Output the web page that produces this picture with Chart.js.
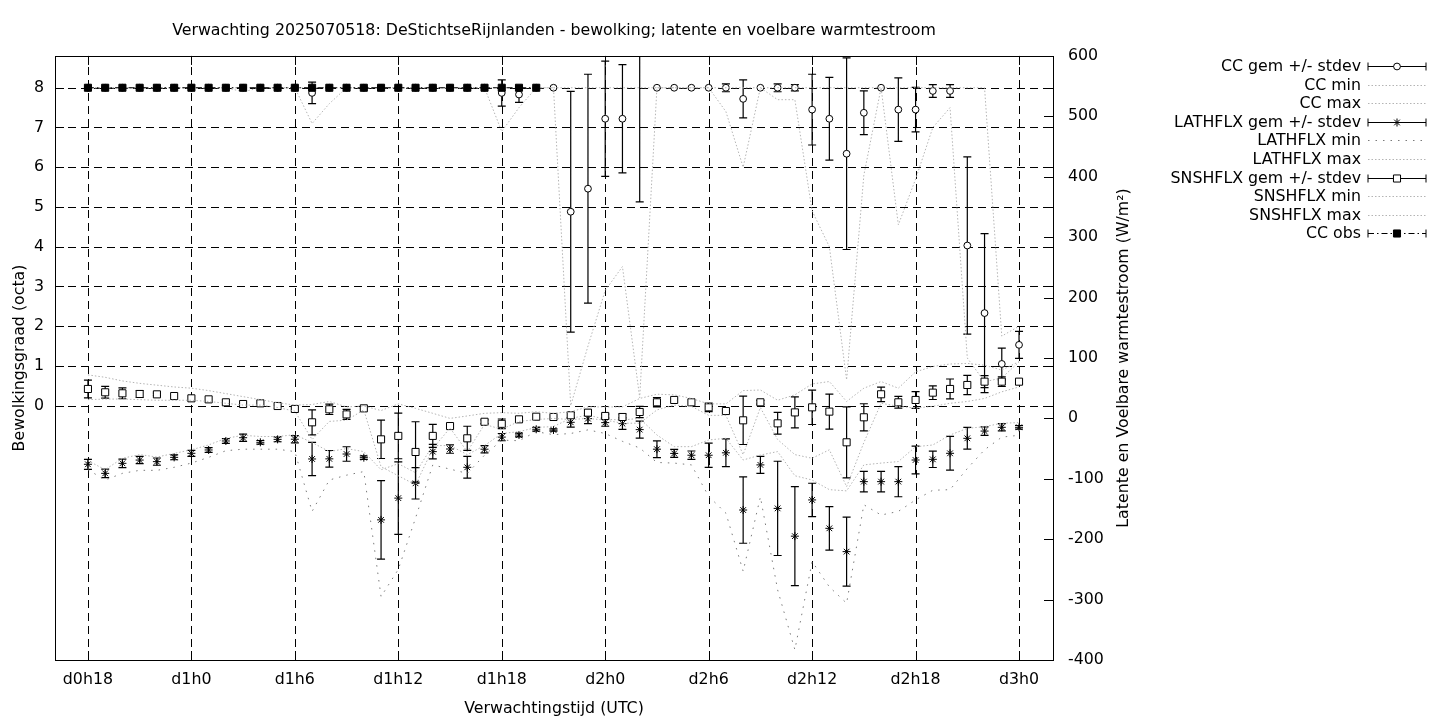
<!DOCTYPE html>
<html>
<head>
<meta charset="utf-8">
<title>Verwachting 2025070518 - DeStichtseRijnlanden</title>
<script src="https://cdn.jsdelivr.net/npm/chart.js@4/dist/chart.umd.min.js"></script>
<style>
  html, body { margin: 0; padding: 0; background: #fff; }
  #wrap { width: 1440px; height: 720px; }
</style>
</head>
<body>
<div id="wrap"><canvas id="chart" width="1440" height="720"></canvas></div>
<script>
// forecast hours since d0h0 (hourly, d0h18 .. d3h0)
const hours = [18, 19, 20, 21, 22, 23, 24, 25, 26, 27, 28, 29, 30,
  31, 32, 33, 34, 35, 36, 37, 38, 39, 40, 41, 42, 43, 44,
  45, 46, 47, 48, 49, 50, 51, 52, 53, 54, 55, 56, 57, 58, 59,
  60, 61, 62, 63, 64, 65, 66, 67, 68, 69, 70, 71, 72];

// x axis ticks
const xTickHours = [18, 24, 30, 36, 42, 48, 54, 60, 66, 72];
const xTickLabels = ['d0h18', 'd1h0', 'd1h6', 'd1h12', 'd1h18', 'd2h0', 'd2h6', 'd2h12', 'd2h18', 'd3h0'];
const ccTicks = [0, 1, 2, 3, 4, 5, 6, 7, 8];

// bewolking (octa)
const ccMean = [8, 8, 8, 8, 8, 8, 8, 8, 8, 8, 8, 8, 8,
  7.87, 8, 8, 8, 8, 8, 8, 8, 8, 8, 8, 7.87, 7.83, 8,
  8, 4.88, 5.46, 7.22, 7.22, 9.0, 8, 8, 8, 8, 8, 7.72, 8, 8, 8,
  7.45, 7.22, 6.34, 7.37, 8, 7.45, 7.45, 7.92, 7.92, 4.03, 2.33, 1.05, 1.53];
const ccSd = [0, 0, 0, 0, 0, 0, 0, 0, 0, 0, 0, 0, 0,
  0.27, 0, 0, 0, 0, 0, 0, 0, 0, 0, 0, 0.33, 0.2, 0,
  0, 3.03, 2.88, 1.45, 1.36, 3.87, 0, 0, 0, 0, 0.1, 0.48, 0, 0.1, 0.08,
  0.89, 1.04, 2.41, 0.55, 0, 0.8, 0.56, 0.16, 0.16, 2.23, 2.0, 0.4, 0.34];
const ccMin = [8, 8, 8, 8, 8, 8, 8, 8, 8, 7.9, 8, 8, 8,
  7.1, 7.6, 8, 8, 8, 8, 8, 8, 8, 8, 8, 6.9, 7.5, 8,
  8, 0, 1.5, 2.9, 3.5, 0.2, 8, 8, 8, 8, 7.4, 6.0, 8, 7.7, 7.7,
  4.9, 4.0, 0.65, 5.8, 8, 4.55, 5.7, 7.0, 7.5, 1.2, 0.6, 0.7, 1.1];
const ccMax = [8, 8, 8, 8, 8, 8, 8, 8, 8, 8, 8, 8, 8,
  8, 8, 8, 8, 8, 8, 8, 8, 8, 8, 8, 8, 8, 8,
  8, 8, 8, 8, 8, 8, 8, 8, 8, 8, 8, 8, 8, 8, 8,
  8, 8, 8, 8, 8, 8, 8, 8, 8, 8, 8, 1.75, 2.0];
const ccObs = [8, 8, 8, 8, 8, 8, 8, 8, 8, 8, 8, 8, 8,
  8, 8, 8, 8, 8, 8, 8, 8, 8, 8, 8, 8, 8, 8,
  null, null, null, null, null, null, null, null, null, null, null, null, null, null, null,
  null, null, null, null, null, null, null, null, null, null, null, null, null];

// latente warmtestroom (W/m2)
const latMean = [-76, -91, -74.4, -69, -71.6, -64.5, -57.8, -52.3, -37.4, -32, -39.6, -34.7, -34.5,
  -67.2, -67, -59, -65, -168, -132, -107.5, -55, -50.7, -81, -51, -31, -27.5, -18,
  -19.2, -6.5, -0.4, -7, -8.7, -18.6, -51, -58, -61, -61, -57, -151.7, -77, -149, -195,
  -135, -182, -220.6, -104.7, -104.7, -104.7, -68.9, -67.8, -57.8, -33, -21, -14.8, -14.8];
const latSd = [8.3, 7, 7, 6, 6, 4, 5, 4, 4, 6, 3, 4, 6,
  27.6, 13.8, 12, 3, 65, 60, 26, 12, 7, 18, 6, 6, 3, 3,
  2, 8, 8.3, 6, 9.6, 14, 13.8, 6.6, 7, 20, 23, 55, 14, 78, 82,
  27.6, 36, 57, 17, 17, 25, 23, 13.5, 28, 18, 7, 6, 3];
const latMin = [-85, -102, -91, -86, -86, -81, -74, -64.5, -53.5, -51, -51, -51, -55,
  -154, -102, -94, -88, -295, -250, -165, -77, -84, -91, -61, -36, -37, -22,
  -27, -25, -19, -25, -38, -49, -73, -74, -77, -129, -157, -253, -130, -284, -383,
  -237, -279, -306, -143, -160, -154, -135, -119, -118, -83, -52, -31, -28];
const latMax = [-70, -85, -66, -60, -64, -58, -52, -44, -33, -28, -30, -30, -27,
  -40, -55, -50, -55, -85, -75, -90, -45, -45, -60, -45, -25, -22, -15,
  -13.5, 0, 5.6, -1.6, -2.6, 0, -27.5, -46.8, -46.8, -35.7, -33, -68.9, -60.6, -55, -95,
  -102, -118, -120, -77, -74, -71.5, -47, -44, -27.5, -16.5, -13.7, -8, -7];

// voelbare warmtestroom (W/m2)
const snsMean = [48.7, 43.2, 41.5, 40.4, 39.8, 37, 33.2, 31.5, 26.6, 23.8, 24.9, 20.5, 15.6,
  -6.5, 15, 6.6, 16.6, -34.7, -29, -55.6, -29, -12.7, -33, -5.6, -9, -1.6, 2.8,
  2.3, 5.1, 9.5, 4, 2.3, 10.6, 26.6, 30.5, 26.6, 18.3, 12.2, -3.2, 26.6, -8.2, 9.9,
  18.3, 11.2, -39.6, 1.8, 39.9, 26.6, 30.5, 42.6, 48.7, 55.3, 60.8, 60.8, 60.8];
const snsSd = [14.6, 9.7, 9, 5.8, 2, 0, 0, 0, 0, 0, 0, 0, 0,
  20.7, 8.6, 8.3, 0, 31.7, 37.8, 50, 19, 3, 20, 3, 8, 0, 0,
  0, 5, 5, 3, 5, 9.4, 7.7, 0, 0, 7, 0, 40, 3, 18, 25.6,
  28.4, 29, 58.8, 22.4, 12, 9.7, 13.8, 11.3, 16.5, 16, 10, 8, 3];
const snsMin = [31, 32, 32, 31, 30, 30, 30, 28, 25, 22, 22, 18, 12,
  -35, -5, -3, 14, -80, -95, -110, -50, -16, -55, -10, -18, -5, -2,
  0, -2, 0, -3, -8, -8, 14, 22, 20, 5, 5, -60, 18, -35, -60,
  -66, -52, -113, -40, 25, 20, 17, 20, 25, 28, 33, 44, 52];
const snsMax = [72, 68, 62, 58, 55, 52, 50, 46, 41, 36, 31, 26, 22,
  23, 28, 19, 20.5, 13, 24, 16.6, 8.4, 0, 4, 8.4, 9.5, 8.4, 11,
  8.4, 11, 19, 19, 19, 33, 40, 39, 33, 24, 24, 46, 47, 30, 39,
  57, 61, 28, 50, 61, 50, 77, 86, 90, 91, 88, 80, 94];

const FONT = "'DejaVu Sans', sans-serif";
const FS = 15.8;
Chart.defaults.font.family = FONT;
Chart.defaults.font.size = FS;
Chart.defaults.color = '#000';

const pts = vals => hours.map((h, i) => ({ x: h, y: vals[i] }));

const lightDots = [1.5, 2];
const sparseDots = [1.5, 6];

function meanSet(label, vals, sd, axis, style, radius) {
  return {
    label: label, data: pts(vals), stdev: sd, yAxisID: axis, legendKind: 'err',
    showLine: false, pointStyle: style, pointRadius: radius, pointBorderWidth: 1,
    pointBorderColor: '#000', pointBackgroundColor: '#fff', clip: 0
  };
}
function rangeSet(label, vals, axis, color, dash) {
  return {
    label: label, data: pts(vals), yAxisID: axis, legendKind: 'line',
    borderColor: color, borderWidth: 1, borderDash: dash, pointRadius: 0, tension: 0, clip: 0
  };
}

const datasets = [
  meanSet('CC gem +/- stdev', ccMean, ccSd, 'y', 'circle', 3.4),
  rangeSet('CC min', ccMin, 'y', '#b4b4b4', lightDots),
  rangeSet('CC max', ccMax, 'y', '#b4b4b4', lightDots),
  meanSet('LATHFLX gem +/- stdev', latMean, latSd, 'y2', 'star', 4),
  rangeSet('LATHFLX min', latMin, 'y2', '#7a7a7a', sparseDots),
  rangeSet('LATHFLX max', latMax, 'y2', '#b4b4b4', lightDots),
  meanSet('SNSHFLX gem +/- stdev', snsMean, snsSd, 'y2', 'rect', 5),
  rangeSet('SNSHFLX min', snsMin, 'y2', '#b4b4b4', lightDots),
  rangeSet('SNSHFLX max', snsMax, 'y2', '#b4b4b4', lightDots),
  {
    label: 'CC obs', data: pts(ccObs), yAxisID: 'y', legendKind: 'obs',
    borderColor: '#000', borderWidth: 1, borderDash: [6, 3, 1.5, 3],
    pointStyle: 'rect', pointRadius: 5, pointBorderWidth: 1,
    pointBorderColor: '#000', pointBackgroundColor: '#000', tension: 0, clip: 0
  }
];
// gnuplot order: later plots on top
datasets.forEach((d, i) => { d.order = datasets.length - i; });

// dashed grid, inward ticks and border like gnuplot
const gnuplotFrame = {
  id: 'gnuplotFrame',
  beforeDatasetsDraw(chart) {
    const { ctx, chartArea: a, scales } = chart;
    ctx.save();
    ctx.strokeStyle = '#000';
    ctx.lineWidth = 1;
    ctx.setLineDash([8, 5]);
    ctx.beginPath();
    scales.x.ticks.forEach(t => {
      const px = Math.round(scales.x.getPixelForValue(t.value)) + 0.5;
      ctx.moveTo(px, a.bottom);
      ctx.lineTo(px, a.top);
    });
    scales.y.ticks.forEach(t => {
      const py = Math.round(scales.y.getPixelForValue(t.value)) + 0.5;
      ctx.moveTo(a.left, py);
      ctx.lineTo(a.right, py);
    });
    ctx.stroke();
    ctx.restore();
  },
  afterDatasetsDraw(chart) {
    const { ctx, chartArea: a, scales } = chart;
    const tl = 9;
    ctx.save();
    ctx.strokeStyle = '#000';
    ctx.lineWidth = 1;
    ctx.setLineDash([]);
    ctx.beginPath();
    scales.x.ticks.forEach(t => {
      const px = Math.round(scales.x.getPixelForValue(t.value)) + 0.5;
      ctx.moveTo(px, a.bottom); ctx.lineTo(px, a.bottom - tl);
      ctx.moveTo(px, a.top); ctx.lineTo(px, a.top + tl);
    });
    scales.y.ticks.forEach(t => {
      const py = Math.round(scales.y.getPixelForValue(t.value)) + 0.5;
      ctx.moveTo(a.left, py); ctx.lineTo(a.left + tl, py);
      ctx.moveTo(a.right, py); ctx.lineTo(a.right - tl, py);
    });
    scales.y2.ticks.forEach(t => {
      const py = Math.round(scales.y2.getPixelForValue(t.value)) + 0.5;
      ctx.moveTo(a.right, py); ctx.lineTo(a.right - tl, py);
    });
    ctx.stroke();
    ctx.strokeRect(Math.round(a.left) + 0.5, Math.round(a.top) + 0.5,
      Math.round(a.right - a.left), Math.round(a.bottom - a.top));
    ctx.restore();
  }
};

// vertical error bars with caps (mean +/- stdev)
const errorBars = {
  id: 'errorBars',
  beforeDatasetDraw(chart, args) {
    const ds = chart.data.datasets[args.index];
    if (!ds.stdev) return;
    const { ctx, chartArea: a } = chart;
    const xs = chart.scales.x, ys = chart.scales[ds.yAxisID];
    ctx.save();
    ctx.beginPath();
    ctx.rect(a.left, a.top, a.right - a.left, a.bottom - a.top);
    ctx.clip();
    ctx.strokeStyle = '#000';
    ctx.lineWidth = 1.2;
    ctx.beginPath();
    ds.data.forEach((p, i) => {
      const sd = ds.stdev[i];
      if (p.y === null || !sd) return;
      const px = xs.getPixelForValue(p.x);
      const top = ys.getPixelForValue(p.y + sd);
      const bot = ys.getPixelForValue(p.y - sd);
      ctx.moveTo(px, top); ctx.lineTo(px, bot);
      ctx.moveTo(px - 4, top); ctx.lineTo(px + 4, top);
      ctx.moveTo(px - 4, bot); ctx.lineTo(px + 4, bot);
    });
    ctx.stroke();
    ctx.restore();
  }
};

// gnuplot style key on the right, plus the rotated y2 title
const gnuplotKey = {
  id: 'gnuplotKey',
  afterDraw(chart) {
    const { ctx, chartArea: a } = chart;
    ctx.save();
    ctx.font = FS + 'px ' + FONT;
    ctx.fillStyle = '#000';

    ctx.save();
    ctx.translate(1124, (a.top + a.bottom) / 2);
    ctx.rotate(-Math.PI / 2);
    ctx.textAlign = 'center';
    ctx.textBaseline = 'middle';
    ctx.fillText('Latente en Voelbare warmtestroom (W/m\u00B2)', 0, 0);
    ctx.restore();

    const textX = 1361, x0 = 1368, x1 = 1426, xc = (x0 + x1) / 2;
    chart.data.datasets.forEach((ds, i) => {
      const y = Math.round(66 + i * 18.6) + 0.5;
      ctx.textAlign = 'right';
      ctx.textBaseline = 'middle';
      ctx.fillStyle = '#000';
      ctx.fillText(ds.label, textX, y);
      ctx.lineWidth = 1;
      if (ds.legendKind === 'line') {
        ctx.strokeStyle = ds.borderColor;
        ctx.setLineDash(ds.borderDash);
        ctx.beginPath(); ctx.moveTo(x0, y); ctx.lineTo(x1, y); ctx.stroke();
        ctx.setLineDash([]);
        return;
      }
      ctx.strokeStyle = '#000';
      if (ds.legendKind === 'obs') ctx.setLineDash(ds.borderDash);
      ctx.beginPath(); ctx.moveTo(x0, y); ctx.lineTo(x1, y); ctx.stroke();
      ctx.setLineDash([]);
      ctx.beginPath();
      ctx.moveTo(x0, y - 4); ctx.lineTo(x0, y + 4);
      ctx.moveTo(x1, y - 4); ctx.lineTo(x1, y + 4);
      ctx.stroke();
      ctx.fillStyle = ds.pointBackgroundColor;
      ctx.strokeStyle = '#000';
      Chart.helpers.drawPoint(ctx, {
        pointStyle: ds.pointStyle, radius: ds.pointRadius, rotation: 0, borderWidth: 1
      }, xc, y);
    });
    ctx.restore();
  }
};

new Chart(document.getElementById('chart'), {
  type: 'line',
  data: { datasets: datasets },
  options: {
    responsive: false,
    animation: false,
    devicePixelRatio: 1,
    events: [],
    layout: { padding: 0 },
    plugins: {
      legend: { display: false },
      tooltip: { enabled: false },
      title: {
        display: true,
        fullSize: false,
        text: 'Verwachting 2025070518: DeStichtseRijnlanden - bewolking; latente en voelbare warmtestroom',
        font: { size: FS, weight: 'normal' },
        color: '#000',
        padding: { top: 21.5, bottom: 15.5 }
      }
    },
    scales: {
      x: {
        type: 'linear',
        position: 'bottom',
        min: 16.09,
        max: 73.97,
        afterBuildTicks: axis => { axis.ticks = xTickHours.map(v => ({ value: v })); },
        afterFit: axis => { axis.height = 60; },
        grid: { display: false, drawTicks: false },
        border: { display: false },
        ticks: {
          autoSkip: false, maxRotation: 0, padding: 10,
          callback: v => xTickLabels[xTickHours.indexOf(v)]
        },
        title: { display: true, text: 'Verwachtingstijd (UTC)', padding: { top: 0, bottom: 2 } }
      },
      y: {
        position: 'left',
        min: -6.4,
        max: 8.8,
        afterBuildTicks: axis => { axis.ticks = ccTicks.map(v => ({ value: v })); },
        afterFit: axis => { axis.width = 55; },
        grid: { display: false, drawTicks: false },
        border: { display: false },
        ticks: { padding: 11 },
        title: { display: true, text: 'Bewolkingsgraad (octa)', padding: { top: 10, bottom: 0 } }
      },
      y2: {
        position: 'right',
        min: -400,
        max: 600,
        afterFit: axis => { axis.width = 387; },
        grid: { display: false, drawTicks: false },
        border: { display: false },
        ticks: { stepSize: 100, padding: 15 }
      }
    }
  },
  plugins: [gnuplotFrame, errorBars, gnuplotKey]
});
</script>
</body>
</html>
